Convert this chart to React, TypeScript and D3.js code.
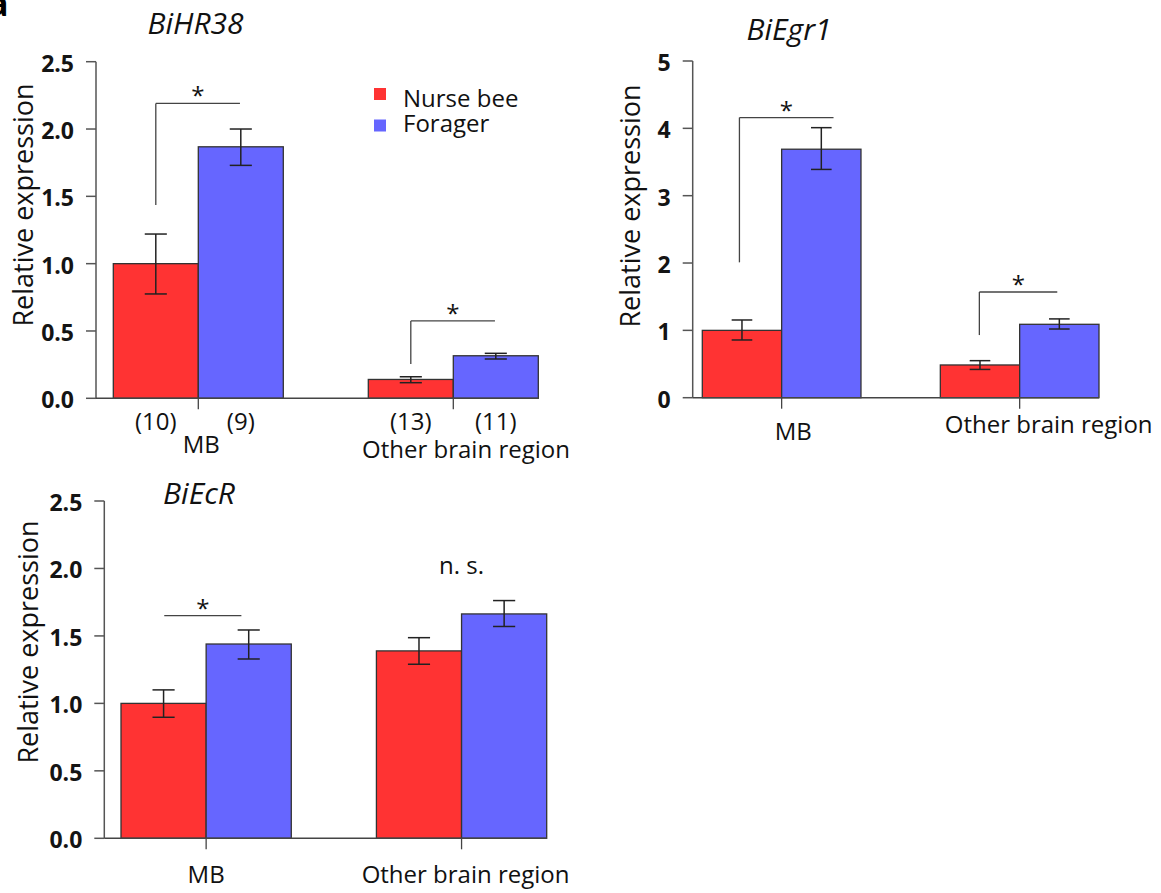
import React from 'react';
import * as d3 from 'd3';

// ---------- data ----------
const groups = ['MB', 'Other brain region'];
const seriesNames = ['Nurse bee', 'Forager'];
const seriesColors = ['#FF3333', '#6666FF'];

// BiHR38
const hr38Nurse = [1.0, 0.14];
const hr38NurseLow = [0.775, 0.116];
const hr38NurseHigh = [1.22, 0.16];
const hr38Forager = [1.868, 0.316];
const hr38ForagerLow = [1.73, 0.292];
const hr38ForagerHigh = [2.0, 0.334];
const hr38NurseN = ['(10)', '(13)'];
const hr38ForagerN = ['(9)', '(11)'];
const hr38Ticks = [0, 0.5, 1, 1.5, 2, 2.5];

// BiEgr1
const egr1Nurse = [1.0, 0.486];
const egr1NurseLow = [0.857, 0.42];
const egr1NurseHigh = [1.154, 0.55];
const egr1Forager = [3.69, 1.09];
const egr1ForagerLow = [3.39, 1.02];
const egr1ForagerHigh = [4.01, 1.17];
const egr1Ticks = [0, 1, 2, 3, 4, 5];

// BiEcR
const ecrNurse = [1.0, 1.389];
const ecrNurseLow = [0.897, 1.29];
const ecrNurseHigh = [1.1, 1.487];
const ecrForager = [1.44, 1.663];
const ecrForagerLow = [1.329, 1.57];
const ecrForagerHigh = [1.544, 1.762];
const ecrTicks = [0, 0.5, 1, 1.5, 2, 2.5];

// significance annotations (group index, bracket value levels, label)
const hr38Sig = [
  { g: 0, legLow: 1.435, level: 2.19, label: '*', line: true },
  { g: 1, legLow: 0.255, level: 0.575, label: '*', line: true },
];
const egr1Sig = [
  { g: 0, legLow: 2.01, level: 4.16, label: '*', line: true },
  { g: 1, legLow: 0.93, level: 1.57, label: '*', line: true },
];
const ecrSig = [
  { g: 0, legLow: null, level: 1.65, label: '*', line: true },
  { g: 1, legLow: null, level: 2.0, label: 'n. s.', line: false },
];

const FONT = '"Open Sans", "DejaVu Sans", sans-serif';

type Sig = { g: number; legLow: number | null; level: number; label: string; line: boolean };

type PanelProps = {
  title: string;
  nurse: number[]; nurseLow: number[]; nurseHigh: number[];
  forager: number[]; foragerLow: number[]; foragerHigh: number[];
  ticks: number[]; tickFmt: (v: number) => string;
  nurseN?: string[]; foragerN?: string[];
  sig: Sig[];
  // layout
  axisX: number; y0: number; yTop: number; barStart: number; barEnd: number;
  titleX: number; titleY: number;
  ylabX: number; ylabY: number;
  labelDx: number[]; labelDy: number[];
  bracketFrac: [number, number][];
};

function Panel(p: PanelProps) {
  const yMax = p.ticks[p.ticks.length - 1];
  const y = d3.scaleLinear().domain([0, yMax]).range([p.y0, p.yTop]);
  const x = d3.scaleBand<string>().domain(groups).range([p.barStart, p.barEnd]).paddingInner(1 / 3).paddingOuter(0);
  const xs = d3.scaleBand<string>().domain(seriesNames).range([0, x.bandwidth()]).padding(0);
  const bw = xs.bandwidth();
  const cap = bw * 0.13;
  const series = [
    { name: seriesNames[0], vals: p.nurse, lo: p.nurseLow, hi: p.nurseHigh, n: p.nurseN, color: seriesColors[0] },
    { name: seriesNames[1], vals: p.forager, lo: p.foragerLow, hi: p.foragerHigh, n: p.foragerN, color: seriesColors[1] },
  ];
  return (
    <g>
      <text x={p.titleX} y={p.titleY} textAnchor="middle" fontFamily={FONT} fontStyle="italic" fontSize={30} fill="#111">{p.title}</text>
      <text transform={`translate(${p.ylabX},${p.ylabY}) rotate(-90)`} textAnchor="middle" fontFamily={FONT} fontSize={27} fill="#111">Relative expression</text>
      {/* y axis */}
      <line x1={p.axisX} x2={p.axisX} y1={y(yMax)} y2={y(0)} stroke="#555" strokeWidth={1.5} />
      {p.ticks.map((t) => (
        <g key={t}>
          <line x1={p.axisX - 10} x2={p.axisX} y1={y(t)} y2={y(t)} stroke="#555" strokeWidth={1.5} />
          <text x={p.axisX - 22} y={y(t) + 10} textAnchor="end" fontFamily={FONT} fontWeight="bold" fontSize={23} fill="#141414">{p.tickFmt(t)}</text>
        </g>
      ))}
      {/* bars */}
      {groups.map((g, gi) => (
        <g key={g}>
          {series.map((s) => {
            const bx = (x(g) as number) + (xs(s.name) as number);
            const cx = bx + bw / 2;
            return (
              <g key={s.name}>
                <rect x={bx} y={y(s.vals[gi])} width={bw} height={y(0) - y(s.vals[gi])} fill={s.color} stroke="#333" strokeWidth={1.3} />
                <line x1={cx} x2={cx} y1={y(s.hi[gi])} y2={y(s.lo[gi])} stroke="#222" strokeWidth={1.5} />
                <line x1={cx - cap} x2={cx + cap} y1={y(s.hi[gi])} y2={y(s.hi[gi])} stroke="#222" strokeWidth={1.5} />
                <line x1={cx - cap} x2={cx + cap} y1={y(s.lo[gi])} y2={y(s.lo[gi])} stroke="#222" strokeWidth={1.5} />
                {s.n && (
                  <text x={cx} y={y(0) + 31.5} textAnchor="middle" fontFamily={FONT} fontSize={24} fill="#111">{s.n[gi]}</text>
                )}
              </g>
            );
          })}
          <line x1={(x(g) as number) + bw} x2={(x(g) as number) + bw} y1={y(0)} y2={y(0) + 11} stroke="#444" strokeWidth={1.3} />
          <text x={(x(g) as number) + bw + p.labelDx[gi]} y={y(0) + p.labelDy[gi]} textAnchor="middle" fontFamily={FONT} fontSize={24} fill="#111">{g}</text>
        </g>
      ))}
      <line x1={p.axisX} x2={p.barEnd} y1={y(0)} y2={y(0)} stroke="#444" strokeWidth={1.5} />
      {/* significance */}
      {p.sig.map((s, i) => {
        const gx = x(groups[s.g]) as number;
        const x1 = gx + x.bandwidth() * p.bracketFrac[i][0];
        const x2 = gx + x.bandwidth() * p.bracketFrac[i][1];
        const ly = y(s.level);
        return (
          <g key={i}>
            {s.line && <line x1={x1} x2={x2} y1={ly} y2={ly} stroke="#444" strokeWidth={1.3} />}
            {s.line && s.legLow !== null && (
              <line x1={x1} x2={x1} y1={ly} y2={y(s.legLow)} stroke="#444" strokeWidth={1.3} />
            )}
            <text x={(x1 + x2) / 2} y={s.line ? ly + 1 : ly + 6} textAnchor="middle" fontFamily={FONT} fontSize={24} fill="#111">{s.label}</text>
          </g>
        );
      })}
    </g>
  );
}

export default function App() {
  const f1 = d3.format('.1f');
  const f0 = d3.format('d');
  return (
    <svg width={1161} height={893} style={{ position: 'absolute', left: 0, top: 0, background: '#fff' }}>
      <rect width={1161} height={893} fill="#fff" />
      <text x={-12} y={16} fontFamily={FONT} fontWeight="bold" fontSize={34} fill="#000">a</text>
      <Panel
        title="BiHR38"
        nurse={hr38Nurse} nurseLow={hr38NurseLow} nurseHigh={hr38NurseHigh}
        forager={hr38Forager} foragerLow={hr38ForagerLow} foragerHigh={hr38ForagerHigh}
        ticks={hr38Ticks} tickFmt={f1}
        nurseN={hr38NurseN} foragerN={hr38ForagerN}
        sig={hr38Sig}
        axisX={96} y0={398.3} yTop={61.7} barStart={113.3} barEnd={538.3}
        titleX={195.5} titleY={34}
        ylabX={33} ylabY={205}
        labelDx={[3, 12.7]} labelDy={[55, 60]}
        bracketFrac={[[0.25, 0.745], [0.25, 0.745]]}
      />
      <Panel
        title="BiEgr1"
        nurse={egr1Nurse} nurseLow={egr1NurseLow} nurseHigh={egr1NurseHigh}
        forager={egr1Forager} foragerLow={egr1ForagerLow} foragerHigh={egr1ForagerHigh}
        ticks={egr1Ticks} tickFmt={f0}
        sig={egr1Sig}
        axisX={692.7} y0={397.7} yTop={61} barStart={702.3} barEnd={1099}
        titleX={789} titleY={40}
        ylabX={640} ylabY={206}
        labelDx={[11.7, 29]} labelDy={[42.3, 35]}
        bracketFrac={[[0.234, 0.827], [0.246, 0.737]]}
      />
      <Panel
        title="BiEcR"
        nurse={ecrNurse} nurseLow={ecrNurseLow} nurseHigh={ecrNurseHigh}
        forager={ecrForager} foragerLow={ecrForagerLow} foragerHigh={ecrForagerHigh}
        ticks={ecrTicks} tickFmt={f1}
        sig={ecrSig}
        axisX={104.3} y0={838.3} yTop={501} barStart={121} barEnd={546.7}
        titleX={199} titleY={504}
        ylabX={38} ylabY={642}
        labelDx={[0, 4]} labelDy={[44.7, 44.7]}
        bracketFrac={[[0.254, 0.707], [0.5, 0.5]]}
      />
      {/* legend */}
      {seriesNames.map((s, i) => (
        <g key={s}>
          <rect x={374} y={88 + i * 31.5} width={12} height={12} fill={seriesColors[i]} />
          <text x={403} y={106.7 + i * 25.5} fontFamily={FONT} fontSize={24} fill="#111">{s}</text>
        </g>
      ))}
    </svg>
  );
}
